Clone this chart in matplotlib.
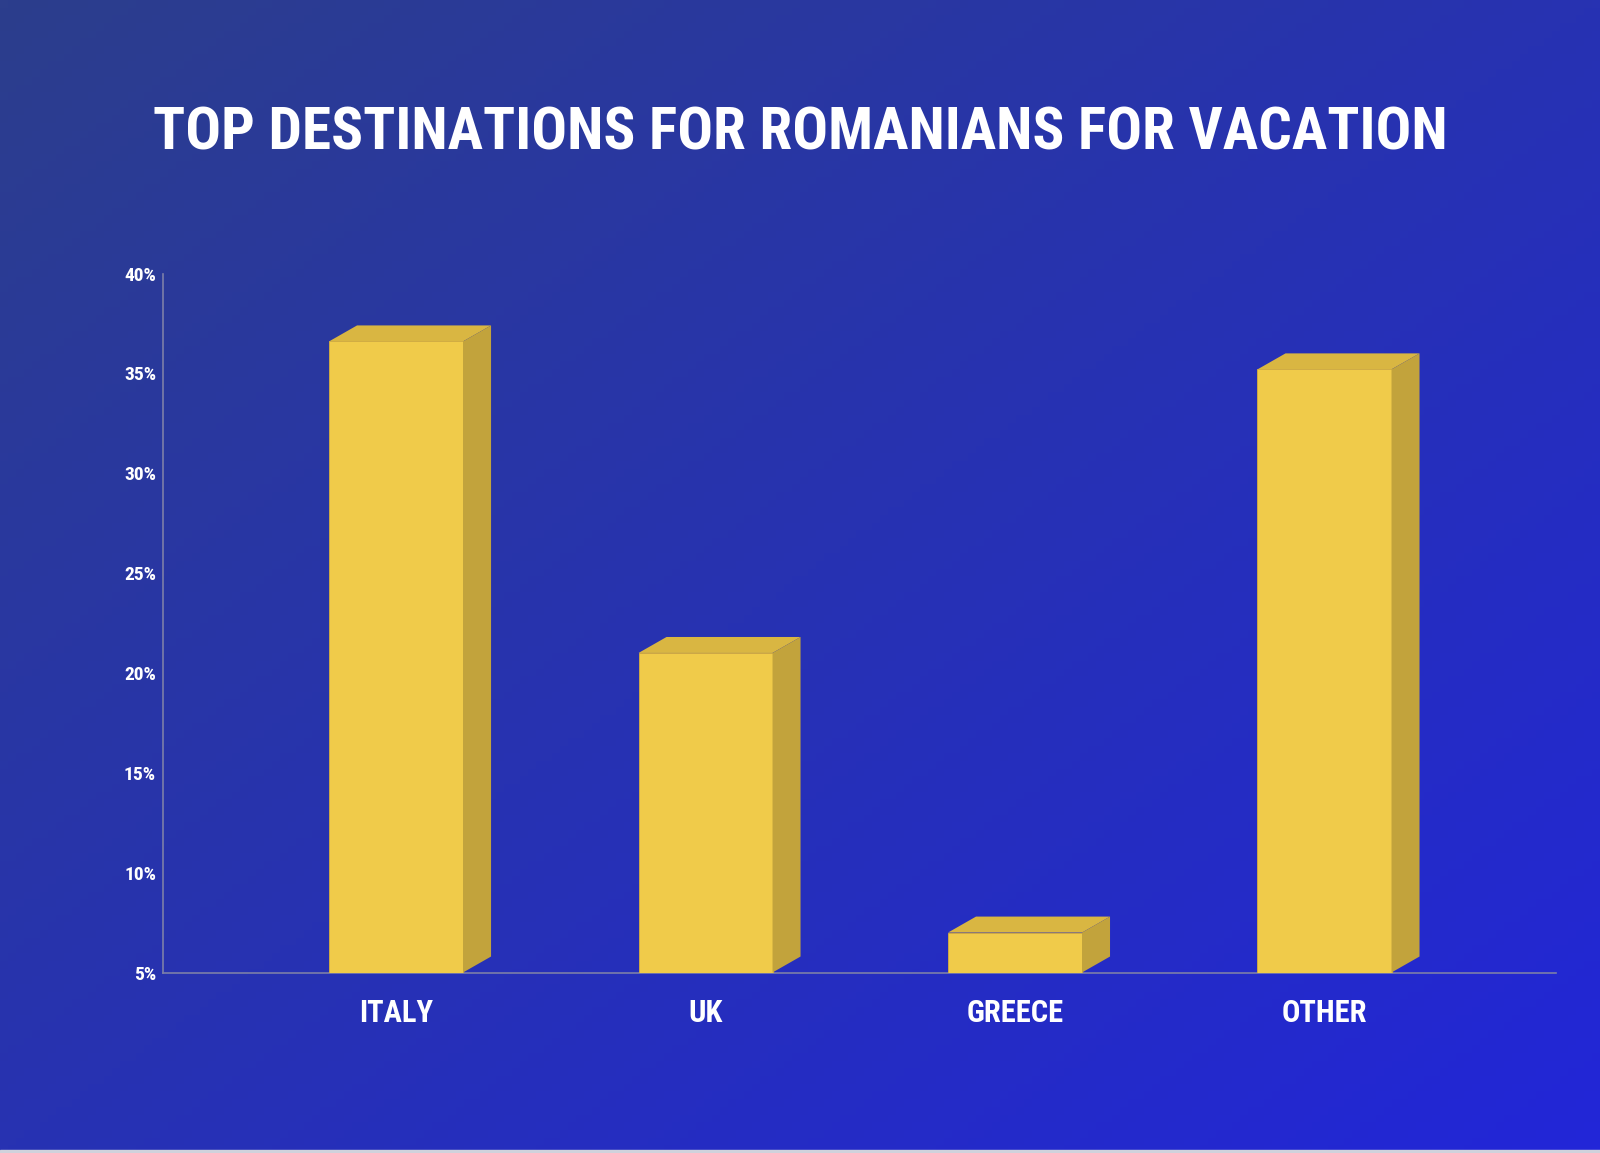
import numpy as np
import matplotlib
matplotlib.use("Agg")
import matplotlib.pyplot as plt
from matplotlib import font_manager

categories = ["ITALY", "UK", "GREECE", "OTHER"]
values = [36.6, 21.0, 7.0, 35.2]
yticks = [5, 10, 15, 20, 25, 30, 35, 40]
ytick_labels = ["5%", "10%", "15%", "20%", "25%", "30%", "35%", "40%"]
title = "TOP DESTINATIONS FOR ROMANIANS FOR VACATION"

front_c = "#F0CB4A"
top_c = "#D9B642"
side_c = "#C2A33C"

# pick a narrow, heavy font if one is around
names = {f.name for f in font_manager.fontManager.ttflist}
family = "DejaVu Sans"
for cand in ["Roboto Condensed", "Liberation Sans Narrow", "Open Sans Condensed", "Noto Sans Condensed"]:
    if cand in names:
        family = cand
        break
font = dict(family=family, weight="bold", stretch="condensed", color="white")

W, H = 1600, 1153
fig = plt.figure(figsize=(W / 100, H / 100), dpi=100)

# diagonal gradient background
bg = fig.add_axes([0, 0, 1, 1], zorder=-10)
gx, gy = np.meshgrid(np.linspace(0, 1, 200), np.linspace(0, 1, 150))
t = (gx + gy) / 2
c0 = np.array([44, 62, 140]) / 255
c1 = np.array([34, 38, 216]) / 255
img = c0[None, None, :] * (1 - t[..., None]) + c1[None, None, :] * t[..., None]
bg.imshow(img, aspect="auto", extent=[0, 1, 0, 1], origin="upper")
bg.axhspan(0, 3 / H, color="#D0D2DC")
bg.set_xlim(0, 1)
bg.set_ylim(0, 1)
bg.axis("off")

ax = fig.add_axes([163 / W, (H - 972.5) / H, (1556 - 163) / W, (972.5 - 273.5) / H])
ax.patch.set_visible(False)

x = np.arange(len(categories))
width = 0.433
dx, dy = 0.0905, 0.80
base = 5

ax.bar(x, np.array(values) - base, bottom=base, width=width, color=front_c,
       edgecolor="#D9B03C", linewidth=0.6, zorder=3)
for xi, v in zip(x, values):
    x0, x1 = xi - width / 2, xi + width / 2
    ax.fill([x0, x0 + dx, x1 + dx, x1], [v, v + dy, v + dy, v], color=top_c, lw=0, zorder=3)
    ax.fill([x1, x1, x1 + dx, x1 + dx], [base, v, v + dy, base + dy], color=side_c, lw=0, zorder=3)

ax.set_xlim(-0.753, 3.748)
ax.set_ylim(5, 40)
ax.set_yticks(yticks)
ax.set_yticklabels(ytick_labels)
ax.set_xticks(x)
ax.set_xticklabels(categories)
ax.tick_params(axis="both", length=0)
ax.tick_params(axis="y", pad=5)
ax.tick_params(axis="x", pad=18)
for lab in ax.get_yticklabels():
    lab.set(**font, fontsize=14)
for lab in ax.get_xticklabels():
    lab.set(**font, fontsize=22)

for s in ["top", "right"]:
    ax.spines[s].set_visible(False)
for s in ["left", "bottom"]:
    ax.spines[s].set_color("#7C7FA8")
    ax.spines[s].set_linewidth(1.2)

tt = fig.text(0.5, (H - 134) / H, title, ha="center", va="center", fontsize=48, **font)

# fit the title to the reference width
fig.canvas.draw()
bb = tt.get_window_extent()
tt.set_fontsize(48 * 1294 / bb.width)

fig.savefig("out.png", dpi=100)
